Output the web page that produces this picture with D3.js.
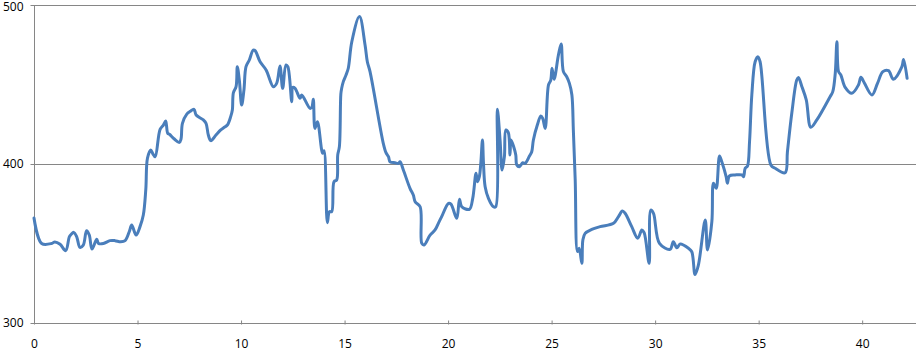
<!DOCTYPE html>
<html>
<head>
<meta charset="utf-8">
<script src="https://cdn.jsdelivr.net/npm/d3@7"></script>
<style>
    body { margin: 0; background: #fff; }
    text { font-family: "Open Sans", "DejaVu Sans", sans-serif; font-size: 12px; fill: #000; }
</style>
</head>
<body>
<div id="chart_div"></div>
<script>
const xValues = [
    0, 0.37, 0.85, 1.01, 1.26, 1.53, 1.71, 1.80, 1.92, 2.06, 2.22, 2.38, 2.54, 2.67, 2.80, 3.03, 3.12, 3.35, 3.67, 3.91,
    4.19, 4.40, 4.60, 4.72, 4.93, 5.12, 5.28, 5.40, 5.48, 5.64, 5.73, 5.85, 6.09, 6.25, 6.36, 6.46, 6.54, 6.78, 7.02, 7.10,
    7.17, 7.38, 7.54, 7.73, 7.83, 8.18, 8.31, 8.42, 8.54, 8.79, 9.02, 9.19, 9.34, 9.50, 9.58, 9.63, 9.76, 9.82, 9.92, 10.03,
    10.14, 10.24, 10.40, 10.59, 10.68, 10.92, 11.21, 11.56, 11.72, 11.88, 12.01, 12.17, 12.26, 12.45, 12.50, 12.61, 12.85, 12.93, 13.33, 13.42,
    13.49, 13.57, 13.69, 13.94, 14.01, 14.17, 14.27, 14.38, 14.49, 14.62, 14.67, 14.75, 14.82, 14.86, 14.94, 15.07, 15.18, 15.35, 15.72, 15.99,
    16.10, 16.23, 16.87, 17.00, 17.12, 17.20, 17.44, 17.60, 17.68, 17.84, 18.16, 18.32, 18.41, 18.65, 18.73, 18.84, 19.13, 19.37, 19.53, 19.69,
    20.02, 20.14, 20.42, 20.55, 20.66, 21.03, 21.19, 21.35, 21.42, 21.51, 21.58, 21.66, 21.71, 21.79, 21.95, 22.19, 22.30, 22.38, 22.51, 22.61,
    22.72, 22.79, 22.91, 22.99, 23.04, 23.19, 23.27, 23.32, 23.44, 23.61, 23.72, 23.93, 24.04, 24.12, 24.31, 24.48, 24.57, 24.69, 24.85, 24.96,
    25.02, 25.12, 25.33, 25.46, 25.57, 25.73, 25.86, 25.98, 26.05, 26.14, 26.25, 26.33, 26.46, 26.51, 26.62, 26.94, 27.34, 27.99, 28.23, 28.42,
    28.55, 28.87, 29.16, 29.36, 29.47, 29.71, 29.79, 29.92, 30.21, 30.72, 30.88, 31.05, 31.21, 31.61, 31.77, 31.93, 32.09, 32.42, 32.53, 32.74,
    32.82, 32.95, 33.11, 33.22, 33.43, 33.49, 33.59, 33.86, 34.19, 34.27, 34.35, 34.46, 34.56, 34.67, 34.83, 34.96, 35.07, 35.59, 35.80, 36.28,
    36.39, 36.60, 36.84, 36.92, 37.09, 37.30, 37.52, 37.81, 38.45, 38.58, 38.70, 38.78, 38.86, 38.97, 39.18, 39.50, 39.82, 39.94, 40.10, 40.47,
    40.74, 41.00, 41.27, 41.51, 41.92, 42.00, 42.17
];

const yValues = [
    366, 350, 350, 351, 349.5, 345.5, 354.3, 355.8, 357, 354.3, 347.6, 349, 358, 355.3, 346.5, 352.6, 350, 350, 351.8, 351.8,
    351.1, 351.8, 357.4, 361.6, 355.3, 360.6, 367.9, 384, 403.6, 408.8, 406.7, 404.6, 421.8, 424.5, 427, 419.3, 418.7, 415.7, 413.6, 415.7,
    425.6, 431.4, 433.1, 434.4, 430.8, 427.7, 425.6, 418.2, 414.7, 418.2, 421.4, 423.1, 424.5, 429.8, 434, 444.8, 448.6, 461.2, 452.4, 437.1,
    446.5, 461.2, 465.4, 471.7, 471.3, 464.3, 459.1, 448.6, 450.7, 461.6, 447.6, 462.3, 461.2, 439.2, 448.2, 447.6, 441.3, 443.4, 435, 435.7,
    440.7, 422.4, 426.6, 406.7, 408.4, 363.1, 370, 370, 388.9, 390, 405.7, 410.9, 444, 447.6, 451.8, 456, 460.2, 476.9, 492.7, 474.8,
    464.3, 458.1, 413, 407.1, 404.6, 401.4, 400.8, 400.4, 401.4, 396.2, 384.7, 380.5, 376.3, 373.1, 350.1, 349.1, 355.3, 358.5, 362.7, 366.9,
    375.3, 374.8, 365.8, 377.8, 373.1, 371.5, 378.4, 394.2, 388.9, 392, 400.4, 415.1, 400.4, 385.7, 378.4, 373.1, 373.1, 434.4, 415.1, 396.2,
    404.6, 421.4, 419.7, 405.7, 415.1, 409.9, 405.7, 399.4, 398.3, 400.8, 400.4, 405, 407.7, 415.1, 424.5, 430.2, 428.7, 422.4, 449.7, 452.8,
    460.2, 453.3, 468.6, 475.5, 458.1, 454.9, 450.7, 443.4, 421.4, 389.9, 345, 347, 337.5, 352.2, 356.4, 358.9, 360.6, 362.7, 366.9, 370.4,
    369, 360.6, 353.3, 358.5, 356.8, 337.5, 371, 369, 350.1, 346.3, 351.1, 347.3, 349.7, 347, 344.8, 330.5, 336.5, 364.8, 345.9, 363.7,
    387.9, 384.7, 405, 401.4, 392, 387.9, 392.6, 393.1, 393.1, 392, 397.3, 398.7, 414, 443.4, 464.3, 467.5, 464.3, 399.4, 397.3, 394.5,
    407.7, 431.9, 452.8, 454.4, 448.6, 440.3, 423.1, 427.7, 442.3, 445.5, 457, 476.9, 458.1, 456, 448.2, 444.5, 449.7, 454.5, 451.1, 443.4,
    450.7, 458.1, 458.7, 453.3, 461.2, 465.8, 453.9
];

const xTicks = [0, 5, 10, 15, 20, 25, 30, 35, 40];
const yTicks = [300, 400, 500];

const data = xValues.map((d, i) => ({ x: d, y: yValues[i] }));

const width = 916;
const height = 352;
const plotLeft = 34;
const plotTop = 5;
const plotBottom = 323;

const x = d3.scaleLinear()
    .domain([0, 42.6])
    .range([plotLeft, width]);

const y = d3.scaleLinear()
    .domain([300, 500])
    .range([plotBottom, plotTop]);

const svg = d3.select("#chart_div")
    .append("svg")
    .attr("width", width)
    .attr("height", height);

// gridlines
svg.append("g")
    .selectAll("line")
    .data(yTicks.filter(d => d > 300))
    .enter()
    .append("line")
    .attr("x1", plotLeft)
    .attr("x2", width)
    .attr("y1", d => Math.round(y(d)) + 0.5)
    .attr("y2", d => Math.round(y(d)) + 0.5)
    .attr("stroke", "#868686");

const xAxis = (g) => g.append("g")
    .attr("transform", `translate(0, ${plotBottom + 0.5})`)
    .call(d3.axisBottom(x).tickValues(xTicks).tickSize(4).tickPadding(12))
    .call(g => g.select(".domain").attr("stroke", "#868686").attr("d", `M${plotLeft},0H${width}`))
    .call(g => g.selectAll(".tick line").attr("stroke", "#868686").attr("y1", -3).attr("y2", 1))
    .call(g => g.selectAll(".tick text").attr("font-size", null).attr("font-family", null));

const yAxis = (g) => g.append("g")
    .attr("transform", `translate(${plotLeft + 0.5},0)`)
    .call(d3.axisLeft(y).tickValues(yTicks).tickSize(4).tickPadding(7))
    .call(g => g.select(".domain").attr("stroke", "#868686").attr("d", `M0,${plotTop}V${plotBottom}`))
    .call(g => g.selectAll(".tick line").attr("stroke", "#868686"))
    .call(g => g.selectAll(".tick text").attr("font-size", null).attr("font-family", null)
        .attr("dy", d => d === 500 ? "0.45em" : "0.32em"));

svg.call(xAxis);
svg.call(yAxis);

const line = d3.line()
    .x(d => x(d.x))
    .y(d => y(d.y))
    .curve(d3.curveCatmullRom.alpha(0.5));

svg.append("path")
    .datum(data)
    .attr("fill", "none")
    .attr("stroke", "#4a7ebb")
    .attr("stroke-width", 3)
    .attr("stroke-linejoin", "round")
    .attr("stroke-linecap", "round")
    .attr("d", line);
</script>
</body>
</html>
